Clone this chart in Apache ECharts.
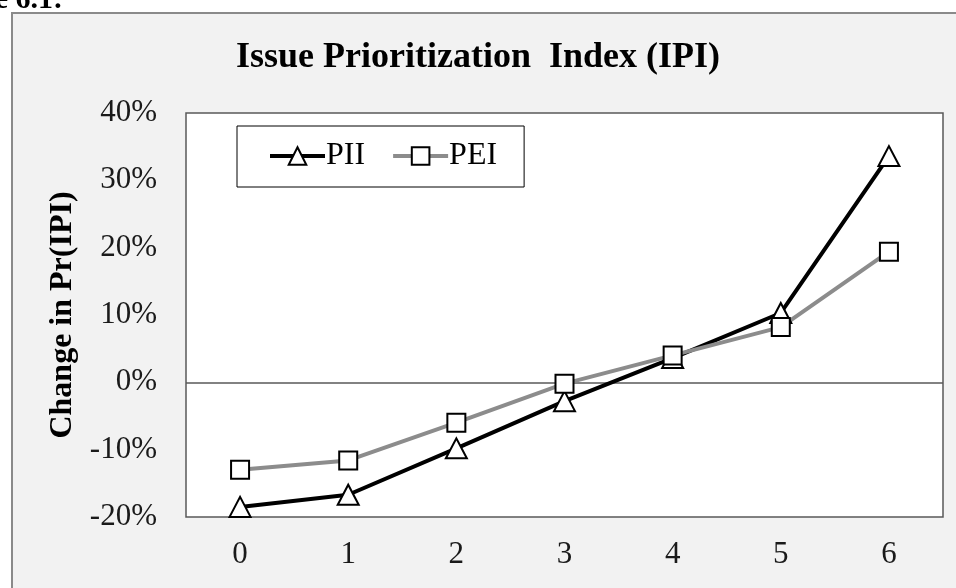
<!DOCTYPE html>
<html>
<head>
<meta charset="utf-8">
<script src="https://cdn.jsdelivr.net/npm/echarts@6/dist/echarts.min.js"></script>
<style>
    html, body { margin: 0; padding: 0; background: #fff; overflow: hidden; }
    #frame { position: absolute; left: 11px; top: 12px; width: 980px; height: 620px;
             background: #f2f2f2; border: 2px solid #8a8a8a; }
    #main { position: absolute; left: 0; top: 0; width: 956px; height: 588px; }
</style>
</head>
<body>
<div id="frame"></div>
<div id="main"></div>
<script>
// x categories
const categories = ['0', '1', '2', '3', '4', '5', '6']
// change in Pr(IPI), in percent
const pii = [-18.5, -16.7, -9.8, -2.8, 3.6, 10.3, 33.6]
const pei = [-13.0, -11.6, -6.0, -0.2, 4.0, 8.2, 19.4]
// y ticks
const yMin = -20
const yMax = 40
const yStep = 10

const serif = '"Liberation Serif", "Times New Roman", serif'
const chart = echarts.init(document.getElementById('main'))

const option = {
    backgroundColor: 'transparent',
    animation: false,
    title: {
        text: 'Issue Prioritization  Index (IPI)',
        left: 'center',
        top: 35,
        textStyle: { fontFamily: serif, fontSize: 36, fontWeight: 'bold', color: '#000' }
    },
    graphic: [
        {
            type: 'text',
            x: 63,
            y: 15,
            style: {
                text: 'Figure 6.1:',
                align: 'right',
                verticalAlign: 'bottom',
                font: 'bold 30px ' + serif,
                fill: '#000'
            }
        }
    ],
    legend: {
        left: 237,
        top: 126,
        padding: [14, 27, 15, 31],
        backgroundColor: '#fff',
        borderColor: '#000',
        borderWidth: 1,
        itemWidth: 55,
        itemHeight: 22,
        itemGap: 26,
        textStyle: { fontFamily: serif, fontSize: 32, color: '#000', padding: [0, 0, 0, -4] },
        lineStyle: { width: 4 },
        data: ['PII', 'PEI']
    },
    grid: {
        left: 186,
        right: 13,
        top: 113,
        bottom: 71,
        outerBoundsMode: 'none',
        containLabel: false,
        show: true,
        backgroundColor: '#fff',
        borderColor: '#595959',
        borderWidth: 1.5
    },
    xAxis: {
        type: 'category',
        data: categories,
        boundaryGap: true,
        axisLine: { show: false, onZero: false },
        axisTick: { show: false },
        axisLabel: { fontFamily: serif, fontSize: 31, color: '#1a1a1a', margin: 22 }
    },
    yAxis: {
        type: 'value',
        min: yMin,
        max: yMax,
        interval: yStep,
        name: 'Change in Pr(IPI)',
        nameLocation: 'middle',
        nameRotate: 90,
        nameGap: 106,
        nameTextStyle: { fontFamily: serif, fontSize: 32, fontWeight: 'bold', color: '#000' },
        axisLine: { show: false },
        axisTick: { show: false },
        splitLine: { show: false },
        axisLabel: {
            fontFamily: serif, fontSize: 31, color: '#1a1a1a', margin: 29,
            formatter: function (v) { return v + '%' }
        }
    },
    series: [
        {
            name: 'PII',
            type: 'line',
            data: pii,
            symbol: 'triangle',
            symbolSize: [21, 20],
            lineStyle: { color: '#000', width: 4 },
            itemStyle: { color: '#fff', borderColor: '#000', borderWidth: 2 },
            // zero line across the plot
            markLine: {
                silent: true,
                symbol: 'none',
                label: { show: false },
                lineStyle: { color: '#595959', width: 1.5, type: 'solid' },
                data: [{ yAxis: 0 }],
                z: 1
            }
        },
        {
            name: 'PEI',
            type: 'line',
            data: pei,
            symbol: 'rect',
            symbolSize: 18,
            lineStyle: { color: '#8c8c8c', width: 4 },
            itemStyle: { color: '#fff', borderColor: '#000', borderWidth: 2 }
        }
    ]
}

chart.setOption(option)
</script>
</body>
</html>
